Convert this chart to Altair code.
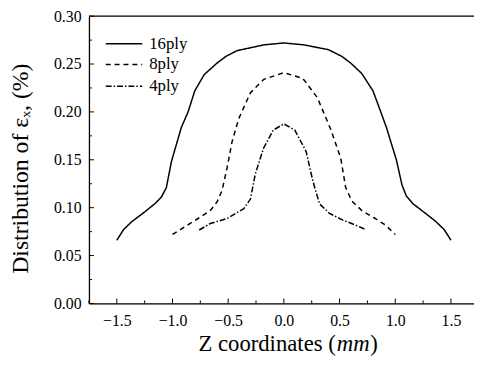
import altair as alt
import pandas as pd

FONT = "Liberation Serif"

# 16ply
x16 = [-1.50, -1.44, -1.37, -1.25, -1.16, -1.10, -1.055, -1.01, -0.92, -0.86, -0.80, -0.715, -0.60, -0.52, -0.42, -0.18, 0.0,
       0.18, 0.40, 0.52, 0.60, 0.70, 0.80, 0.87, 0.92, 1.01, 1.06, 1.10, 1.16, 1.25, 1.36, 1.44, 1.50]
y16 = [0.066, 0.077, 0.085, 0.0955, 0.104, 0.111, 0.121, 0.148, 0.184, 0.200, 0.222, 0.239, 0.251, 0.258, 0.264, 0.270, 0.272,
       0.270, 0.265, 0.258, 0.251, 0.240, 0.222, 0.200, 0.184, 0.150, 0.124, 0.112, 0.104, 0.096, 0.086, 0.077, 0.066]
# 8ply
x8 = [-1.0, -0.89, -0.77, -0.66, -0.60, -0.555, -0.51, -0.465, -0.405, -0.30, -0.18, 0.0,
      0.17, 0.30, 0.42, 0.51, 0.555, 0.61, 0.70, 0.82, 0.91, 1.0]
y8 = [0.072, 0.080, 0.0887, 0.097, 0.106, 0.118, 0.1415, 0.169, 0.193, 0.220, 0.234, 0.241,
      0.235, 0.215, 0.182, 0.152, 0.121, 0.107, 0.097, 0.0887, 0.082, 0.072]
# 4ply
x4 = [-0.76, -0.66, -0.51, -0.36, -0.30, -0.257, -0.183, -0.095, 0.0,
      0.098, 0.20, 0.26, 0.32, 0.41, 0.53, 0.64, 0.73]
y4 = [0.0767, 0.0835, 0.0887, 0.099, 0.109, 0.135, 0.162, 0.181, 0.1875,
      0.181, 0.1586, 0.128, 0.104, 0.094, 0.087, 0.082, 0.0774]

series_names = ["16ply", "8ply", "4ply"]
dashes = [[1, 0], [5, 4], [6, 2, 1.5, 2]]

x_labels = [-1.5, -1.0, -0.5, 0.0, 0.5, 1.0, 1.5]
x_minor = [-1.75, -1.25, -0.75, -0.25, 0.25, 0.75, 1.25]
y_labels = [0.0, 0.05, 0.10, 0.15, 0.20, 0.25, 0.30]
y_minor = [0.025, 0.075, 0.125, 0.175, 0.225, 0.275]

W, H = 390, 291
XDOM = [-1.75, 1.707]
YDOM = [0.0, 0.30]

rows = []
for name, xs, ys in zip(series_names, [x16, x8, x4], [y16, y8, y4]):
    for i, (a, b) in enumerate(zip(xs, ys)):
        rows.append({"series": name, "z": a, "eps": b, "order": i})
df = pd.DataFrame(rows)

xscale = alt.Scale(domain=XDOM, nice=False, zero=False)
yscale = alt.Scale(domain=YDOM, nice=False, zero=False)

lines = alt.Chart(df).mark_line(color="black", strokeWidth=1.5, clip=True).encode(
    x=alt.X("z:Q", scale=xscale,
            axis=alt.Axis(values=x_labels, format=".1f", tickSize=0, ticks=False, labelPadding=9,
                          labelFontSize=16, labelFont=FONT, labelColor="black",
                          domainColor="black", domainWidth=1.3, grid=False, title=None)),
    y=alt.Y("eps:Q", scale=yscale,
            axis=alt.Axis(values=y_labels, format=".2f", tickSize=0, ticks=False, labelPadding=8,
                          labelFontSize=16, labelFont=FONT, labelColor="black",
                          domainColor="black", domainWidth=1.3, grid=False,
                          title="Distribution of εₓ, (%)", titleFont=FONT, titleFontSize=24,
                          titleFontWeight="normal", titleColor="black",
                          titleAngle=270, titleX=-69, titleY=154,
                          titleAlign="center", titleBaseline="middle")),
    strokeDash=alt.StrokeDash("series:N", scale=alt.Scale(domain=series_names, range=dashes), legend=None),
    detail="series:N",
    order="order:Q",
)

top_rule = alt.Chart(pd.DataFrame({"eps": [YDOM[1]]})).mark_rule(color="black", strokeWidth=1.3).encode(
    y=alt.Y("eps:Q", scale=yscale)
)

ymaj = alt.Chart(pd.DataFrame({"eps": y_labels})).mark_rule(color="black", strokeWidth=1).encode(
    y=alt.Y("eps:Q", scale=yscale), x=alt.value(0), x2=alt.value(5))
ymin = alt.Chart(pd.DataFrame({"eps": y_minor})).mark_rule(color="black", strokeWidth=1).encode(
    y=alt.Y("eps:Q", scale=yscale), x=alt.value(0), x2=alt.value(3))
xmaj = alt.Chart(pd.DataFrame({"z": x_labels})).mark_rule(color="black", strokeWidth=1).encode(
    x=alt.X("z:Q", scale=xscale), y=alt.value(H), y2=alt.value(H - 5))
xmin = alt.Chart(pd.DataFrame({"z": x_minor})).mark_rule(color="black", strokeWidth=1).encode(
    x=alt.X("z:Q", scale=xscale), y=alt.value(H), y2=alt.value(H - 3))

# legend (decoration)
leg_layers = []
leg_y = [28, 49, 71]
for name, d, ly in zip(series_names, dashes, leg_y):
    leg_layers.append(
        alt.Chart(pd.DataFrame({"s": [name]})).mark_rule(color="black", strokeWidth=1.5, strokeDash=d).encode(
            x=alt.value(17), x2=alt.value(54), y=alt.value(ly))
    )
    leg_layers.append(
        alt.Chart(pd.DataFrame({"s": [name]})).mark_text(font=FONT, fontSize=17, align="left",
                                                          baseline="middle", color="black").encode(
            text="s:N", x=alt.value(61), y=alt.value(ly))
    )

# x title with italic unit
title_parts = alt.Chart(pd.DataFrame({"t": ["Z coordinates ("]})).mark_text(
    font=FONT, fontSize=23, align="right", baseline="alphabetic", color="black").encode(
    text="t:N", x=alt.value(250), y=alt.value(339))
title_mm = alt.Chart(pd.DataFrame({"t": ["mm"]})).mark_text(
    font=FONT, fontSize=23, fontStyle="italic", align="left", baseline="alphabetic", color="black").encode(
    text="t:N", x=alt.value(251), y=alt.value(339))
title_close = alt.Chart(pd.DataFrame({"t": [")"]})).mark_text(
    font=FONT, fontSize=23, align="left", baseline="alphabetic", color="black").encode(
    text="t:N", x=alt.value(285), y=alt.value(339))

chart = alt.layer(lines, top_rule, ymaj, ymin, xmaj, xmin, *leg_layers, title_parts, title_mm, title_close).properties(
    width=W, height=H,
    autosize=alt.AutoSizeParams(type="none"),
    padding={"left": 82, "top": 6, "right": 0, "bottom": 52},
).configure_view(stroke=None).configure(background="white")

chart.save("out.html", embed_options={"renderer": "svg", "actions": False})
